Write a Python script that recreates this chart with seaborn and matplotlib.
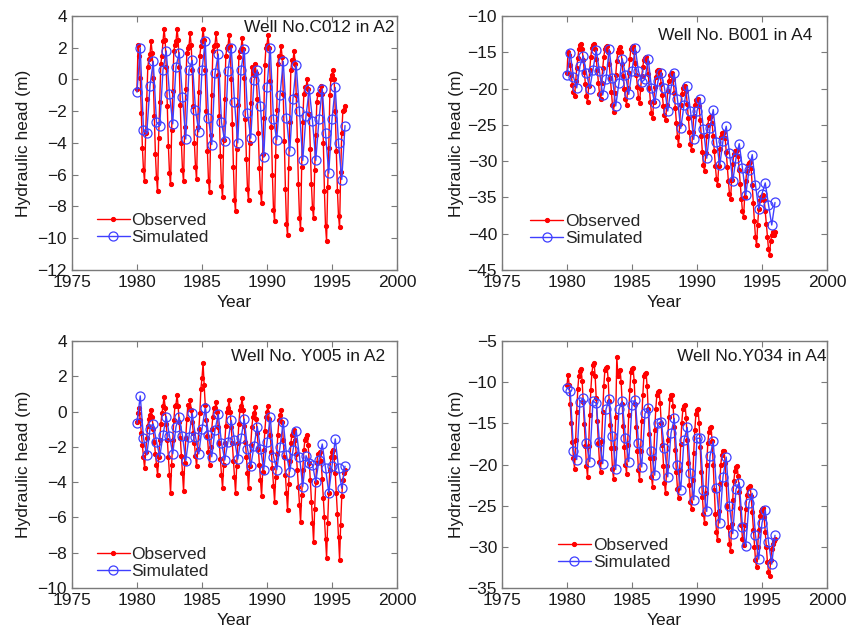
import numpy as np
import pandas as pd
import seaborn as sns
import matplotlib
matplotlib.use('Agg')
import matplotlib.pyplot as plt

# Observed heads, monthly from Jan 1980 (one row per year), last value Jan 1996
c012_obs = [
    -0.6, 2.2, 1.5, 0.1, -2.1, -4.3, -5.7, -6.4, -3.4, -1.2, 0.8, 1.3,
    1.6, 2.4, 1.7, 0.1, -2.3, -4.7, -6.2, -7.0, -3.7, -1.4, 1.0, 1.5,
    2.4, 3.2, 2.5, 0.8, -1.7, -4.2, -5.9, -6.6, -3.2, -0.7, 1.8, 2.2,
    2.4, 3.2, 2.5, 0.8, -1.6, -4.0, -5.7, -6.4, -3.0, -0.6, 1.7, 2.0,
    2.1, 2.9, 2.2, 0.6, -1.7, -4.0, -5.5, -6.25, -3.0, -0.8, 1.5, 2.1,
    2.4, 3.2, 2.5, 0.6, -2.0, -4.5, -6.4, -7.1, -3.5, -1.0, 1.8, 2.1,
    2.2, 2.9, 2.2, 0.3, -2.3, -4.8, -6.7, -7.4, -3.8, -1.2, 1.5, 2.0,
    2.1, 2.8, 2.1, 0.0, -2.8, -5.5, -7.6, -8.3, -4.4, -1.6, 1.4, 1.8,
    1.9, 2.6, 1.9, 0.1, -2.5, -5.0, -6.9, -7.6, -4.0, -1.5, 0.8, 0.5,
    0.3, 1.0, 0.4, -1.2, -3.4, -5.6, -7.1, -7.8, -4.7, -2.4, 0.9, 2.0,
    2.2, 2.8, 2.0, -0.1, -3.0, -6.0, -8.2, -8.9, -4.8, -1.9, 1.0, 1.5,
    1.5, 2.1, 1.4, -0.9, -3.9, -6.9, -9.1, -9.8, -5.6, -2.7, 0.6, 1.2,
    1.2, 1.8, 1.0, -1.0, -3.8, -6.6, -8.7, -9.4, -5.5, -2.7, -0.9, -0.5,
    -0.5, 0.0, -0.6, -2.2, -4.4, -6.6, -8.1, -8.75, -5.7, -3.5, -1.4, -0.9,
    -0.9, -0.7, -0.4, -0.9, -4.0, -7.0, -9.2, -10.2, -6.8, -4.3, -1.0, 0.0,
    0.3, 0.6, 0.0, -2.0, -4.5, -7.0, -8.6, -9.3, -5.8, -3.4, -2.0, -1.9,
    -1.7,
]
b001_obs = [
    -17.8, -14.9, -15.4, -16.8, -18.2, -19.5, -20.5, -21.0, -19.0, -17.2, -15.8, -14.6,
    -14.0, -13.8, -14.5, -16.0, -17.7, -19.4, -21.0, -21.9, -19.6, -17.4, -15.6, -14.4,
    -14.0, -13.8, -14.5, -15.9, -17.5, -19.2, -20.7, -21.5, -19.2, -17.2, -15.6, -14.6,
    -14.3, -14.1, -14.9, -16.6, -18.5, -20.5, -22.3, -23.2, -20.6, -18.2, -16.2, -14.9,
    -14.5, -14.3, -15.0, -16.6, -18.3, -20.0, -21.5, -22.2, -19.9, -17.8, -15.9, -14.6,
    -14.3, -14.2, -14.9, -16.5, -18.2, -19.8, -21.3, -22.0, -20.0, -18.3, -17.0, -16.0,
    -15.8, -15.6, -16.3, -18.0, -19.9, -21.8, -23.4, -24.1, -21.8, -19.8, -18.4, -17.6,
    -17.5, -17.4, -18.0, -19.4, -20.9, -22.4, -23.7, -24.4, -22.3, -20.4, -19.0, -18.1,
    -18.0, -17.9, -18.7, -20.6, -22.7, -24.8, -26.7, -27.8, -24.9, -22.3, -20.7, -19.9,
    -19.7, -19.6, -20.4, -22.1, -24.0, -26.0, -27.7, -28.4, -26.0, -23.8, -22.2, -21.6,
    -21.6, -21.5, -22.4, -24.4, -26.6, -28.8, -30.6, -31.4, -28.9, -26.6, -25.0, -24.1,
    -23.9, -23.8, -24.7, -26.6, -28.6, -30.7, -32.5, -33.3, -30.7, -28.3, -26.7, -26.1,
    -26.1, -26.0, -26.8, -28.7, -30.8, -32.8, -34.5, -35.2, -32.6, -30.4, -29.0, -28.6,
    -28.6, -28.5, -29.3, -31.2, -33.2, -35.2, -36.9, -37.7, -35.0, -32.8, -31.3, -30.6,
    -30.2, -30.1, -31.0, -33.3, -35.8, -38.3, -40.5, -41.5, -38.8, -36.6, -35.3, -34.9,
    -34.8, -34.7, -35.3, -36.9, -38.6, -40.4, -42.1, -42.9, -41.0, -40.2, -39.8, -40.2,
    -39.7,
]
y005_obs = [
    -0.6, -0.1, 0.2, -0.5, -1.2, -1.9, -2.6, -3.2, -2.3, -1.5, -0.8, -0.4,
    -0.2, 0.1, -0.3, -1.0, -1.7, -2.4, -3.0, -3.6, -2.6, -1.6, -0.7, -0.1,
    0.3, 0.85, 0.2, -0.7, -1.6, -2.6, -3.6, -4.6, -3.0, -1.6, -0.5, 0.3,
    0.4, 0.95, 0.3, -0.6, -1.5, -2.5, -3.5, -4.5, -2.9, -1.5, -0.4, 0.4,
    0.2, 0.66, 0.1, -0.6, -1.2, -1.8, -2.5, -3.1, -2.1, -1.0, -0.1, 1.3,
    1.9, 2.75, 1.5, 0.4, -0.5, -1.4, -2.3, -3.0, -2.0, -1.0, -0.3, 0.2,
    0.2, 0.57, 0.0, -0.9, -1.8, -2.7, -3.6, -4.35, -3.0, -1.8, -0.8, 0.0,
    0.2, 0.66, 0.0, -0.9, -1.8, -2.8, -3.7, -4.6, -3.1, -1.8, -0.7, 0.1,
    0.3, 0.76, 0.1, -0.8, -1.7, -2.6, -3.5, -4.35, -3.1, -1.9, -0.9, -0.3,
    -0.1, 0.25, -0.4, -1.2, -2.1, -3.0, -3.9, -4.8, -3.4, -2.2, -1.1, -0.3,
    0.0, 0.32, -0.4, -1.3, -2.3, -3.2, -4.2, -5.1, -3.7, -2.4, -1.3, -0.5,
    -0.2, 0.1, -0.6, -1.6, -2.6, -3.6, -4.6, -5.6, -4.1, -2.8, -1.8, -1.3,
    -1.2, -1.04, -1.6, -2.4, -3.3, -4.3, -5.3, -6.25, -4.7, -3.3, -2.2, -1.6,
    -1.5, -1.3, -1.9, -2.9, -3.9, -5.1, -6.3, -7.4, -5.5, -4.0, -2.9, -2.4,
    -2.4, -2.27, -2.8, -3.8, -4.9, -6.0, -7.2, -8.3, -6.3, -4.6, -3.3, -2.6,
    -2.3, -2.2, -2.6, -3.5, -4.6, -5.8, -7.1, -8.4, -6.4, -4.8, -3.9, -3.5,
    -3.3,
]
y034_obs = [
    -10.4, -9.1, -10.3, -12.6, -15.0, -17.3, -19.2, -20.5, -17.0, -13.6, -10.8, -9.2,
    -8.6, -8.4, -9.8, -12.4, -15.1, -17.8, -20.2, -21.5, -17.8, -14.0, -11.0, -8.9,
    -7.9, -7.7, -9.2, -11.9, -14.7, -17.4, -19.7, -20.9, -17.2, -13.6, -10.5, -8.5,
    -8.3, -8.1, -9.6, -12.3, -15.2, -18.0, -20.5, -21.8, -18.0, -14.2, -6.9, -9.2,
    -8.6, -8.5, -10.0, -12.6, -15.3, -17.9, -20.0, -21.1, -17.6, -14.0, -11.0, -8.8,
    -8.4, -8.3, -9.8, -12.6, -15.5, -18.3, -20.7, -21.9, -18.3, -14.7, -11.6, -9.3,
    -9.0, -8.9, -10.5, -13.3, -16.3, -19.2, -21.5, -22.7, -19.2, -15.8, -13.2, -11.5,
    -11.2, -11.1, -12.5, -15.0, -17.6, -20.2, -22.3, -23.5, -20.2, -17.0, -14.2, -12.0,
    -11.6, -11.5, -12.9, -15.5, -18.2, -20.9, -23.0, -24.1, -20.7, -17.5, -14.9, -13.2,
    -12.9, -12.75, -14.3, -17.0, -19.8, -22.5, -24.5, -25.4, -21.9, -18.6, -15.8, -13.9,
    -13.4, -13.3, -15.0, -17.9, -20.9, -23.9, -26.0, -27.1, -23.4, -20.0, -17.4, -16.0,
    -15.6, -15.5, -17.2, -20.1, -23.1, -26.0, -28.2, -29.2, -25.6, -22.4, -20.0, -18.8,
    -18.4, -18.3, -19.8, -22.4, -25.0, -27.6, -29.6, -30.5, -27.2, -24.3, -22.0, -20.8,
    -20.3, -20.2, -21.4, -23.3, -25.3, -27.3, -29.0, -29.8, -27.4, -25.4, -23.7, -22.9,
    -22.7, -22.6, -23.8, -25.8, -27.9, -30.0, -31.6, -32.5, -30.0, -27.9, -26.3, -25.6,
    -25.4, -25.3, -26.4, -28.2, -30.0, -31.8, -33.0, -33.6, -31.6, -30.3, -29.6, -29.3,
    -29.0,
]

# Simulated heads, quarterly from 1980.0 to 1996.0
c012_sim = [
    -0.8, 2.0, -3.2, -3.4, -0.4, 1.15, -2.7, -2.9, 0.6, 1.8, -0.9, -2.8,
    0.8, 1.7, -1.1, -3.75, 0.6, 1.2, -1.9, -3.3, 0.6, 2.4, -2.4, -4.1,
    0.4, 1.6, -2.7, -3.9, 0.55, 2.0, -1.4, -4.0, 0.6, 1.9, -2.1, -3.7,
    -0.05, 0.6, -1.7, -4.9, -0.45, 2.0, -2.5, -3.8, -1.0, 1.15, -2.4, -4.5,
    -1.2, 0.9, -2.0, -5.1, -2.3, -0.6, -2.6, -5.1, -2.5, -0.6, -3.4, -5.9,
    -2.5, -0.5, -4.0, -6.3, -2.9,
]
b001_sim = [
    -18.2, -15.1, -18.4, -19.9, -16.9, -15.5, -17.9, -20.0, -17.4, -14.7, -17.6, -20.9,
    -18.7, -14.6, -18.5, -22.4, -19.2, -15.9, -18.1, -20.8, -17.6, -14.4, -17.6, -19.1,
    -18.7, -15.9, -19.9, -22.0, -19.0, -17.8, -19.9, -23.1, -20.0, -17.9, -21.5, -25.5,
    -22.3, -19.7, -23.1, -27.0, -23.1, -21.5, -25.6, -29.6, -25.5, -22.9, -27.3, -30.6,
    -27.2, -25.2, -28.9, -32.8, -29.6, -27.6, -31.0, -34.7, -31.2, -29.1, -33.3, -36.6,
    -34.5, -33.0, -36.0, -38.8, -35.7,
]
y005_sim = [
    -0.66, 0.89, -1.5, -2.46, -1.0, -0.7, -1.7, -2.56, -1.33, -0.28, -1.38, -2.4,
    -0.85, -0.32, -1.38, -2.78, -1.42, -0.1, -1.42, -2.4, -0.97, 0.19, -1.33, -2.56,
    -1.04, -0.15, -1.76, -2.75, -1.7, -0.5, -1.6, -2.7, -1.5, -0.43, -2.1, -3.1,
    -1.95, -0.85, -2.1, -3.3, -1.7, -0.32, -2.55, -3.3, -2.0, -0.57, -2.46, -3.4,
    -2.2, -1.08, -2.55, -4.26, -2.5, -2.9, -3.0, -4.0, -2.74, -1.84, -3.2, -4.6,
    -3.1, -1.55, -3.2, -4.35, -3.1,
]
y034_sim = [
    -10.65, -11.05, -18.3, -19.4, -12.35, -11.95, -17.4, -19.65, -12.3, -12.55, -17.25, -19.9,
    -13.3, -12.05, -16.5, -20.6, -13.3, -12.3, -16.8, -19.65, -12.75, -12.15, -17.35, -20.3,
    -13.8, -13.15, -18.4, -21.3, -15.0, -14.8, -18.0, -21.5, -16.2, -14.4, -20.05, -23.1,
    -17.0, -15.5, -21.0, -24.3, -16.8, -16.8, -23.1, -25.7, -19.0, -17.2, -22.9, -27.1,
    -21.5, -19.1, -25.0, -28.4, -23.0, -22.2, -27.55, -29.9, -24.7, -23.5, -28.6, -31.5,
    -27.1, -25.5, -29.4, -32.1, -28.6,
]

titles = ['Well No.C012 in A2', 'Well No. B001 in A4',
          'Well No. Y005 in A2', 'Well No.Y034 in A4']
ylims = [(-12, 4), (-45, -10), (-10, 4), (-35, -5)]
ysteps = [2, 5, 2, 5]
xticks = [1975, 1980, 1985, 1990, 1995, 2000]

sns.set_style('ticks')
plt.rcParams['font.family'] = ['Liberation Sans', 'DejaVu Sans']
plt.rcParams.update({
    'font.size': 12.5,
    'xtick.direction': 'in', 'ytick.direction': 'in',
    'xtick.top': True, 'ytick.right': True,
    'xtick.major.size': 4, 'ytick.major.size': 4,
    'xtick.color': '#7a7a7a', 'ytick.color': '#7a7a7a',
    'xtick.labelcolor': '#1a1a1a', 'ytick.labelcolor': '#1a1a1a',
    'axes.edgecolor': '#7a7a7a', 'axes.labelcolor': '#1a1a1a',
    'axes.linewidth': 1.0,
})

fig = plt.figure(figsize=(8.61, 6.32), dpi=100)
boxes = [
    [0.0836, 0.5728, 0.3775, 0.4019],
    [0.5830, 0.5728, 0.3775, 0.4019],
    [0.0836, 0.0696, 0.3775, 0.3908],
    [0.5830, 0.0696, 0.3775, 0.3908],
]
title_pos = [(0.991, 0.985), (0.956, 0.953), (0.962, 0.969), (0.997, 0.966)]
legend_pos = [(0.055, 0.07), (0.065, 0.068), (0.055, 0.008), (0.151, 0.046)]
ylab_x = [-0.126, -0.117, -0.126, -0.117]

panels = [(c012_obs, c012_sim), (b001_obs, b001_sim),
          (y005_obs, y005_sim), (y034_obs, y034_sim)]

for i, (obs, sim) in enumerate(panels):
    ax = fig.add_axes(boxes[i])
    obs_df = pd.DataFrame({'Year': 1980 + np.arange(len(obs)) / 12.0, 'Head': obs})
    sim_df = pd.DataFrame({'Year': 1980 + np.arange(len(sim)) * 0.25, 'Head': sim})

    sns.lineplot(data=obs_df, x='Year', y='Head', ax=ax, estimator=None,
                 color='red', linewidth=1.0, marker='.', markersize=6,
                 markeredgecolor='red', markerfacecolor='red', label='Observed')
    sns.lineplot(data=sim_df, x='Year', y='Head', ax=ax, estimator=None,
                 color='#3f3fff', linewidth=1.0, marker='o', markersize=6.5,
                 markeredgecolor='#3f3fff', markerfacecolor='none',
                 markeredgewidth=0.9, label='Simulated')

    ax.set_xlim(1975, 2000)
    ax.set_xticks(xticks)
    lo, hi = ylims[i]
    ax.set_ylim(lo, hi)
    ax.set_yticks(np.arange(lo, hi + 0.1, ysteps[i]))
    ax.set_xlabel('Year')
    ax.set_ylabel('Hydraulic head (m)')
    ax.yaxis.set_label_coords(ylab_x[i], 0.5)
    for s in ax.spines.values():
        s.set_visible(True)

    ax.text(title_pos[i][0], title_pos[i][1], titles[i], transform=ax.transAxes,
            ha='right', va='top', color='#1a1a1a')
    ax.legend(loc='lower left', bbox_to_anchor=legend_pos[i], frameon=False,
              borderaxespad=0, handlelength=1.9, handletextpad=0.1,
              labelspacing=0.1)

fig.savefig('out.png', dpi=100)
